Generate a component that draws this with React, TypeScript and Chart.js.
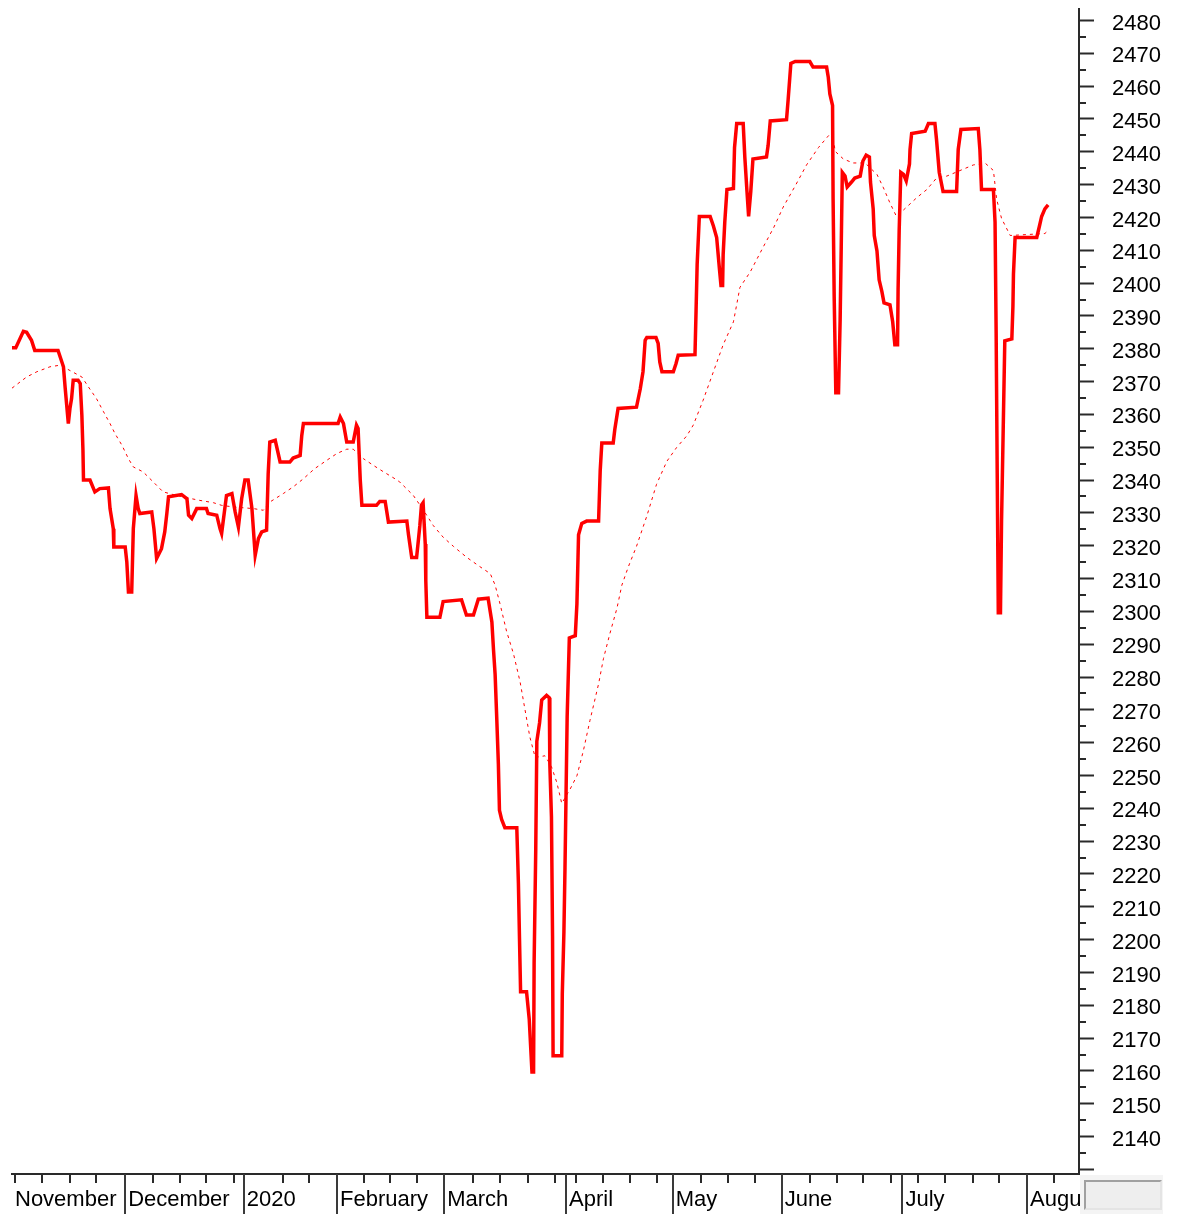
import { useEffect, useRef } from 'react';
import { Chart, registerables } from 'chart.js';

Chart.register(...registerables);

// x axis unit: trading-day index counted from the first session of November
const monthStarts = [0, 20.9, 42.8, 60, 79.8, 102.3, 122, 142.1, 164.4, 187.4];
const monthLabels = ['November', 'December', '2020', 'February', 'March', 'April', 'May', 'June', 'July', 'August'];
const weekTicks = [0.6, 5.6, 10.7, 15.6, 26.0, 31.0, 35.9, 40.9, 50.1, 54.8, 64.9, 69.8, 74.8, 85.1, 90.1, 95.3, 100.2, 104.1, 109.1, 114.1, 119.1, 127.2, 132.2, 137.2, 147.3, 152.3, 157.2, 162.3, 167.3, 172.3, 177.4, 182.3, 192.4];

const closeDays = [
  0, 0.7, 2.1, 2.7, 3.6, 4.2, 8.5, 8.9, 9.5, 9.8,
  10.4, 10.7, 11.0, 11.3, 12.2, 12.6, 12.9, 13.1, 13.2, 14.4,
  15.3, 16.2, 17.8, 18.1, 18.7, 18.8, 20.9, 21.2, 21.5, 22.1,
  22.4, 22.9, 23.3, 23.6, 25.8, 26.2, 26.7, 27.6, 28.2, 28.6,
  28.9, 31.3, 32.3, 32.6, 33.2, 34.1, 35.9, 36.2, 37.8, 38.4,
  38.7, 39.6, 40.6, 41.2, 41.8, 42.4, 43.0, 43.6, 44.3, 44.6,
  44.9, 45.5, 46.1, 47.0, 47.3, 47.6, 48.6, 49.5, 51.3, 51.9,
  53.2, 53.5, 53.8, 60.2, 60.6, 61.2, 61.8, 63.0, 63.6, 63.9,
  64.3, 64.6, 67.3, 67.9, 68.9, 69.5, 72.9, 73.2, 73.8, 74.7,
  75.0, 75.3, 75.6, 75.9, 76.3, 76.4, 76.6, 79.0, 79.6, 83.0,
  83.9, 85.2, 86.1, 87.9, 88.6, 88.9, 89.2, 89.5, 89.8, 90.0,
  90.4, 91.0, 93.2, 93.5, 93.7, 93.9, 95.0, 95.5, 96.0, 96.3,
  96.4, 96.7, 96.9, 97.4, 97.8, 98.7, 99.2, 99.3, 99.6, 99.8,
  99.9, 101.5, 101.6, 101.9, 102.1, 102.3, 102.5, 102.9, 104.0, 104.3,
  104.6, 105.2, 106.1, 108.3, 108.6, 108.9, 111.0, 111.3, 111.9, 115.3,
  116.0, 116.5, 116.9, 117.2, 118.9, 119.3, 119.6, 120.0, 122.1, 122.6,
  123.0, 126.1, 126.3, 126.5, 126.9, 128.9, 129.5, 130.1, 130.6, 130.9,
  131.2, 131.3, 131.6, 132.0, 133.2, 133.4, 133.8, 135.0, 135.3, 135.7,
  136.0, 136.4, 136.8, 139.3, 139.6, 140.0, 143.0, 143.3, 143.8, 144.6,
  147.3, 147.9, 150.4, 150.7, 151.0, 151.5, 151.6, 151.8, 152.1, 152.6,
  152.9, 153.1, 153.3, 153.8, 154.2, 155.0, 155.6, 156.6, 157.1, 157.7,
  158.3, 158.5, 159.0, 159.2, 159.7, 160.1, 160.6, 161.0, 162.1, 162.6,
  163.0, 163.5, 163.6, 163.8, 164.1, 164.6, 165.1, 165.7, 165.8, 166.1,
  168.6, 169.2, 170.4, 170.7, 171.2, 171.9, 174.4, 174.7, 175.2, 178.4,
  178.7, 179.0, 181.2, 181.5, 181.7, 181.9, 182.1, 182.5, 182.7, 183.0,
  183.3, 184.6, 184.8, 184.9, 185.2, 189.2, 189.7, 190.1, 190.7, 191.3,
];

const closeValues = [
  2380.3, 2380.3, 2385.3, 2385, 2382.6, 2379.5, 2379.5, 2377.5, 2374.5, 2368.4,
  2357.2, 2361.8, 2364.8, 2370.4, 2370.4, 2369.4, 2359.7, 2349.1, 2340, 2340,
  2336.4, 2337.4, 2337.6, 2331.3, 2325.2, 2319.6, 2319.6, 2315, 2305.9, 2305.9,
  2325.2, 2335.3, 2331.3, 2329.8, 2330.3, 2325.2, 2316.1, 2319.1, 2324.2, 2330,
  2334.9, 2335.6, 2334.3, 2329.3, 2328.3, 2331.3, 2331.3, 2329.8, 2329.3, 2325.2,
  2323.7, 2335.3, 2335.9, 2330.3, 2325.7, 2334.3, 2340, 2340, 2331.3, 2324.2,
  2317.1, 2322.2, 2324.2, 2324.7, 2342, 2351.6, 2352.1, 2345.5, 2345.5, 2346.7,
  2347.5, 2353.6, 2357.2, 2357.2, 2359.2, 2357.2, 2351.6, 2351.6, 2356.7, 2355.7,
  2340, 2332.3, 2332.3, 2333.5, 2333.5, 2327.2, 2327.5, 2323.4, 2316.4, 2316.4,
  2321.2, 2326.1, 2332.4, 2333.1, 2320.5, 2309.3, 2298.2, 2298.2, 2303, 2303.5,
  2298.9, 2298.9, 2303.7, 2304, 2296.8, 2288.3, 2280.7, 2267.4, 2253.4, 2239.4,
  2236.6, 2234.1, 2234.1, 2217, 2200.2, 2184.1, 2184.1, 2175.7, 2159.7, 2159.7,
  2193.2, 2227.5, 2260.4, 2266, 2273, 2274.4, 2273.7, 2253.4, 2237.3, 2201,
  2164.6, 2164.6, 2183.5, 2202.3, 2221.9, 2245, 2268, 2291.9, 2292.6, 2302.3,
  2323.3, 2326.8, 2327.5, 2327.5, 2342.9, 2351.3, 2351.3, 2355.5, 2361.8, 2362.2,
  2367.8, 2373, 2382.6, 2383.4, 2383.4, 2381.6, 2376, 2373, 2373, 2375.5,
  2378, 2378.2, 2391.7, 2405.7, 2420.3, 2420.3, 2417.4, 2413.9, 2404.6, 2399.3,
  2399.3, 2408.7, 2418.6, 2428.5, 2428.8, 2441.3, 2448.6, 2448.6, 2438.4, 2427.9,
  2420.3, 2427.9, 2437.8, 2438.4, 2441.9, 2449.4, 2449.8, 2455.9, 2466.9, 2467.5,
  2467.5, 2465.8, 2465.8, 2462.8, 2457.6, 2454.1, 2425.5, 2395.8, 2366.6, 2366.6,
  2388.8, 2411, 2433.7, 2432.6, 2429.3, 2430.8, 2432, 2432.6, 2437.2, 2439,
  2438.4, 2430.8, 2422.6, 2414.5, 2409.8, 2401, 2397.5, 2394, 2393.4, 2388.2,
  2381.2, 2381.2, 2398.1, 2416.1, 2433.7, 2433.1, 2431.1, 2436.3, 2440.7, 2445.6,
  2446.3, 2448.6, 2448.6, 2443.6, 2433.7, 2427.9, 2427.9, 2440.7, 2446.8, 2447.1,
  2440.7, 2428.5, 2428.5, 2418.6, 2385.3, 2342.2, 2299.6, 2299.6, 2327.6, 2355,
  2382.4, 2383, 2392.9, 2402.8, 2413.9, 2413.9, 2417.4, 2420.3, 2422.6, 2423.8,
];

const maDays = [
  0, 2.7, 4.6, 7.0, 8.9, 11.0, 12.9, 14.1, 15.6, 16.9,
  18.1, 19.0, 20.3, 21.5, 22.4, 24.2, 26.1, 27.9, 30.4, 32.3,
  34.7, 37.2, 38.7, 40.9, 44.6, 46.4, 47.6, 50.1, 51.9, 53.8,
  55.9, 58.1, 60.0, 61.8, 63.0, 64.9, 66.7, 68.6, 70.7, 71.6,
  74.1, 75.9, 77.8, 79.6, 81.5, 84.0, 86.4, 88.3, 89.2, 90.1,
  91.3, 92.6, 93.8, 94.7, 95.6, 96.6, 98.4, 99.6, 100.6, 101.5,
  103.0, 104.3, 105.5, 106.7, 108.3, 109.2, 110.4, 111.7, 112.6, 113.8,
  115.3, 117.2, 119.0, 120.9, 122.7, 124.6, 125.8, 127.6, 129.5, 131.3,
  133.2, 134.4, 136.3, 138.7, 140.6, 142.4, 144.6, 146.7, 148.9, 150.7,
  151.4, 152.0, 153.5, 155.3, 157.5, 159.7, 160.9, 162.1, 163.3, 165.2,
  167.1, 168.9, 170.7, 172.6, 177.5, 179.7, 181.2, 181.8, 182.7, 184.3,
  190.7, 191.3,
];

const maValues = [
  2368, 2371.4, 2373, 2374.5, 2375, 2373.1, 2371.4, 2368.4, 2364.8, 2360.8,
  2357.2, 2354.2, 2350.6, 2346.5, 2344, 2342.5, 2339.4, 2336.4, 2335.3, 2334.6,
  2333.8, 2333.1, 2332.3, 2331.8, 2331.3, 2330.8, 2333.3, 2335.9, 2337.9, 2340.4,
  2343.5, 2346, 2348.1, 2349.4, 2349.4, 2346.5, 2344.5, 2342.5, 2340.4, 2339.4,
  2335.3, 2331, 2326.1, 2322.6, 2319.8, 2316.4, 2313.6, 2311.5, 2308, 2302.3,
  2294, 2287, 2278.6, 2270.2, 2261.8, 2255.5, 2256, 2252.7, 2247.8, 2241.5,
  2245.7, 2249.9, 2257.6, 2266.7, 2277.9, 2285.6, 2293.3, 2301, 2308, 2313.6,
  2319.8, 2329, 2338.7, 2345.7, 2349.9, 2353.5, 2356.8, 2364.3, 2373, 2381.2,
  2388.2, 2398.7, 2403.4, 2411, 2416.8, 2423.2, 2429.6, 2436, 2441.3, 2444.8,
  2446, 2440.1, 2437.8, 2436.6, 2436.6, 2433.1, 2429, 2424.4, 2420.3, 2423.2,
  2426.1, 2428.5, 2432, 2432.6, 2436, 2436.5, 2434.3, 2425.5, 2419.7, 2414.5,
  2415.1, 2416,
];

const FONT = "'Liberation Sans', Arial, Helvetica, sans-serif";
const AXIS_COLOR = '#2a2a2a';

const axisMarks = {
  id: 'axisMarks',
  afterDraw(chart: any) {
    const { ctx, chartArea } = chart;
    const x = chart.scales.x;
    const y = chart.scales.y;
    ctx.save();
    ctx.strokeStyle = AXIS_COLOR;
    ctx.lineWidth = 2;
    ctx.beginPath();
    // minor ticks of the price axis (every 5)
    for (const t of y.ticks) {
      if (t.value % 10 === 0) continue;
      const py = Math.round(y.getPixelForValue(t.value));
      ctx.moveTo(chartArea.right, py);
      ctx.lineTo(chartArea.right + 7, py);
    }
    // weekly ticks
    for (const d of weekTicks) {
      const px = Math.round(x.getPixelForValue(d));
      ctx.moveTo(px, chartArea.bottom);
      ctx.lineTo(px, chartArea.bottom + 9);
    }
    ctx.stroke();
    // month separators
    ctx.strokeStyle = '#3a3a3a';
    ctx.beginPath();
    for (const d of monthStarts.slice(1)) {
      const px = Math.round(x.getPixelForValue(d));
      ctx.moveTo(px, chartArea.bottom);
      ctx.lineTo(px, chart.height);
    }
    ctx.stroke();
    ctx.restore();
  },
};

export default function App() {
  const ref = useRef<HTMLCanvasElement>(null);

  useEffect(() => {
    const canvas = ref.current;
    if (!canvas) return;
    const chart = new Chart(canvas, {
      type: 'line',
      data: {
        datasets: [
          {
            label: 'Close',
            data: closeDays.map((d, i) => ({ x: d, y: closeValues[i] })),
            borderColor: '#ff0000',
            backgroundColor: '#ff0000',
            borderWidth: 3.5,
            pointRadius: 0,
            tension: 0,
            fill: false,
          },
          {
            label: 'Average',
            data: maDays.map((d, i) => ({ x: d, y: maValues[i] })),
            borderColor: '#ff0000',
            backgroundColor: '#ff0000',
            borderWidth: 1,
            borderDash: [3, 4],
            pointRadius: 0,
            tension: 0,
            fill: false,
          },
        ],
      },
      options: {
        animation: false,
        responsive: false,
        devicePixelRatio: 1,
        events: [],
        layout: { padding: { left: 12, top: 9, right: 0, bottom: 0 } },
        plugins: {
          legend: { display: false },
          tooltip: { enabled: false },
          title: { display: false },
        },
        scales: {
          x: {
            type: 'linear',
            position: 'bottom',
            min: 0,
            max: 197,
            grid: { display: false, drawTicks: false },
            border: { display: true, color: AXIS_COLOR, width: 2 },
            ticks: {
              autoSkip: false,
              maxRotation: 0,
              minRotation: 0,
              align: 'start',
              labelOffset: 3,
              padding: 13,
              color: '#000',
              font: { family: FONT, size: 22 },
              callback: (_v: any, i: number) => monthLabels[i] ?? '',
            },
            afterBuildTicks: (s: any) => {
              s.ticks = monthStarts.map((v) => ({ value: v }));
            },
            afterFit: (s: any) => {
              s.height = 40;
              s.paddingLeft = 0;
              s.paddingRight = 0;
            },
          },
          y: {
            type: 'linear',
            position: 'right',
            min: 2128.6,
            max: 2483.5,
            grid: {
              drawOnChartArea: false,
              drawTicks: true,
              tickLength: 15,
              tickWidth: 2,
              tickColor: (c: any) => (c.tick && c.tick.value % 10 === 0 ? AXIS_COLOR : 'rgba(0,0,0,0)'),
            },
            border: { display: true, color: AXIS_COLOR, width: 2 },
            ticks: {
              stepSize: 5,
              includeBounds: false,
              autoSkip: false,
              padding: 18,
              labelOffset: 3,
              color: '#000',
              font: { family: FONT, size: 22 },
              callback: (v: any) => (v % 10 === 0 && v >= 2140 ? String(v) : ''),
            },
            afterFit: (s: any) => {
              s.width = 103;
              s.paddingTop = 0;
              s.paddingBottom = 0;
            },
          },
        },
      } as any,
      plugins: [axisMarks],
    });
    return () => chart.destroy();
  }, []);

  return (
    <div style={{ position: 'absolute', left: 0, top: 0, width: 1182, height: 1214, background: '#fff' }}>
      <canvas ref={ref} width={1182} height={1214} style={{ display: 'block', width: 1182, height: 1214 }} />
      <div style={{ position: 'absolute', left: 1080, top: 1175, width: 83, height: 39, background: '#f4f4f4' }}>
        <div
          style={{
            position: 'absolute',
            left: 4,
            top: 5,
            width: 78,
            height: 30,
            boxSizing: 'border-box',
            borderStyle: 'solid',
            borderWidth: 2,
            borderColor: '#a0a0a0 #e4e4e4 #e4e4e4 #a0a0a0',
            background: '#eeeeee',
          }}
        />
      </div>
    </div>
  );
}
